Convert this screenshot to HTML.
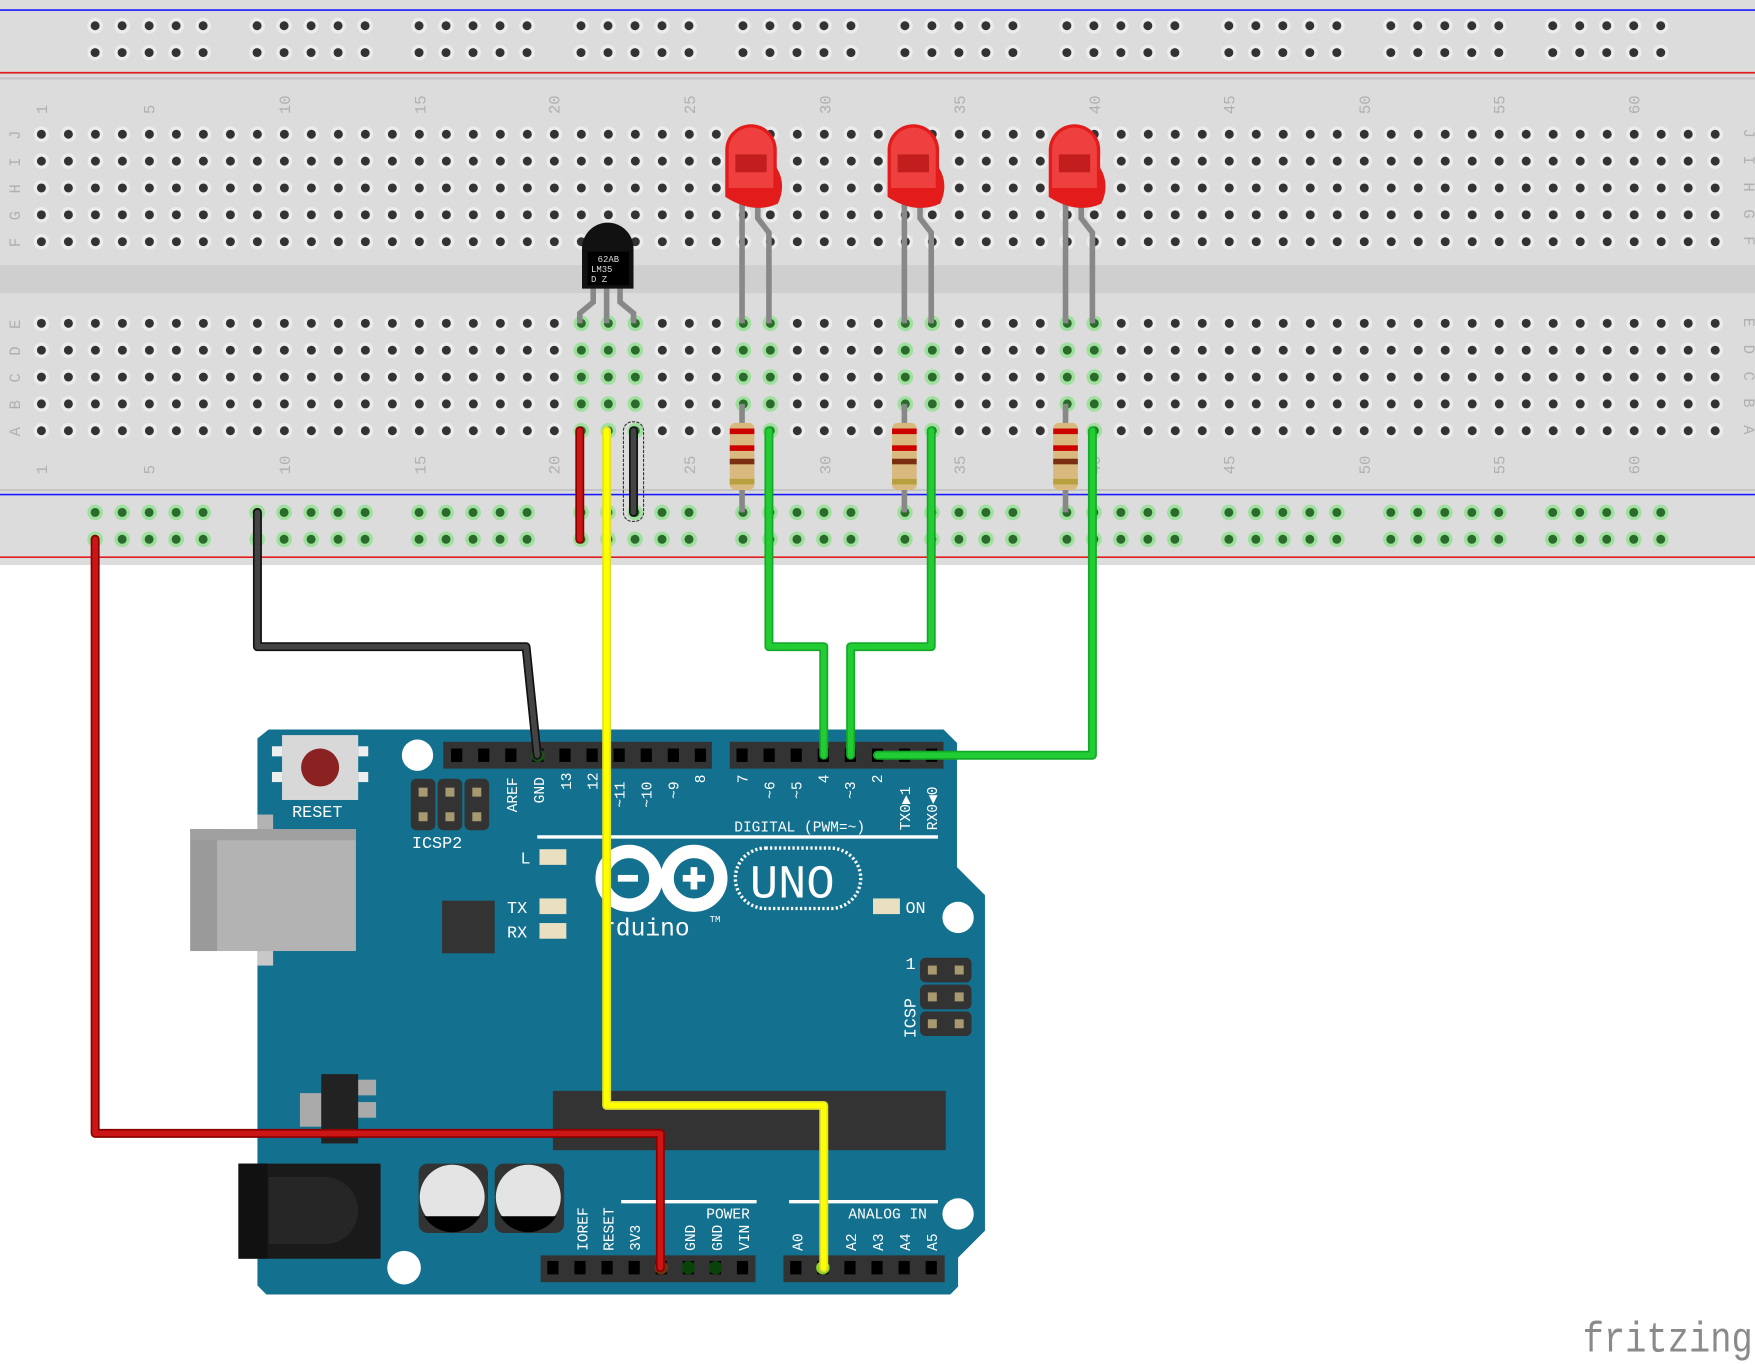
<!DOCTYPE html>
<html><head><meta charset="utf-8"><style>
html,body{margin:0;padding:0;background:#fff;}
svg{display:block;}
text{font-family:"Liberation Mono","DejaVu Sans Mono",monospace;}
</style></head><body>
<svg id="s" width="1755" height="1365" viewBox="0 0 1568 1220" preserveAspectRatio="none" xmlns="http://www.w3.org/2000/svg">
<rect x="0" y="0" width="1568" height="1220" fill="#fff"/>
<rect x="0" y="0" width="1568" height="505" fill="#dcdcdc"/>
<rect x="0" y="237" width="1568" height="25" fill="#cfcfcf"/>
<line x1="0" y1="9" x2="1568" y2="9" stroke="#1a1aff" stroke-width="1.5"/>
<line x1="0" y1="65" x2="1568" y2="65" stroke="#e02020" stroke-width="1.5"/>
<line x1="0" y1="70" x2="1568" y2="70" stroke="#c4c4c4" stroke-width="2"/>
<line x1="0" y1="438" x2="1568" y2="438" stroke="#c4c4c4" stroke-width="2"/>
<line x1="0" y1="442" x2="1568" y2="442" stroke="#1a1aff" stroke-width="1.5"/>
<line x1="0" y1="498" x2="1568" y2="498" stroke="#e02020" stroke-width="1.5"/>
<g id="holes"></g>
<g fill="#b0b0b0" font-family="Liberation Sans,sans-serif" font-size="14">
<text transform="translate(42,102) rotate(-90)">1</text>
<text transform="translate(138,102) rotate(-90)">5</text>
<text transform="translate(259,102) rotate(-90)">10</text>
<text transform="translate(380,102) rotate(-90)">15</text>
<text transform="translate(500,102) rotate(-90)">20</text>
<text transform="translate(621,102) rotate(-90)">25</text>
<text transform="translate(742,102) rotate(-90)">30</text>
<text transform="translate(862,102) rotate(-90)">35</text>
<text transform="translate(983,102) rotate(-90)">40</text>
<text transform="translate(1103,102) rotate(-90)">45</text>
<text transform="translate(1224,102) rotate(-90)">50</text>
<text transform="translate(1344,102) rotate(-90)">55</text>
<text transform="translate(1465,102) rotate(-90)">60</text>
<text transform="translate(42,424) rotate(-90)">1</text>
<text transform="translate(138,424) rotate(-90)">5</text>
<text transform="translate(259,424) rotate(-90)">10</text>
<text transform="translate(380,424) rotate(-90)">15</text>
<text transform="translate(500,424) rotate(-90)">20</text>
<text transform="translate(621,424) rotate(-90)">25</text>
<text transform="translate(742,424) rotate(-90)">30</text>
<text transform="translate(862,424) rotate(-90)">35</text>
<text transform="translate(983,424) rotate(-90)">40</text>
<text transform="translate(1103,424) rotate(-90)">45</text>
<text transform="translate(1224,424) rotate(-90)">50</text>
<text transform="translate(1344,424) rotate(-90)">55</text>
<text transform="translate(1465,424) rotate(-90)">60</text>
<text transform="translate(18,125) rotate(-90)">J</text><text transform="translate(18,149) rotate(-90)">I</text><text transform="translate(18,173) rotate(-90)">H</text><text transform="translate(18,197) rotate(-90)">G</text><text transform="translate(18,221) rotate(-90)">F</text>
<text transform="translate(18,294) rotate(-90)">E</text><text transform="translate(18,318) rotate(-90)">D</text><text transform="translate(18,342) rotate(-90)">C</text><text transform="translate(18,366) rotate(-90)">B</text><text transform="translate(18,390) rotate(-90)">A</text>
<text transform="translate(1558,115) rotate(90)">J</text><text transform="translate(1558,139) rotate(90)">I</text><text transform="translate(1558,163) rotate(90)">H</text><text transform="translate(1558,187) rotate(90)">G</text><text transform="translate(1558,211) rotate(90)">F</text>
<text transform="translate(1558,284) rotate(90)">E</text><text transform="translate(1558,308) rotate(90)">D</text><text transform="translate(1558,332) rotate(90)">C</text><text transform="translate(1558,356) rotate(90)">B</text><text transform="translate(1558,380) rotate(90)">A</text>
</g>
<g stroke="#888" stroke-width="5" fill="none">
<path d="M530,255 L530,270 L518,280 L518,289"/><path d="M542,255 L542,289"/><path d="M554,255 L554,270 L566,280 L566,289"/>
</g>
<path d="M520,258 L520,222 A22,22 0 0 1 566,222 L566,258 Z" fill="#111"/>
<rect x="525" y="225" width="37" height="30" fill="#000"/>
<g fill="#ddd" font-family="Liberation Sans,sans-serif" font-size="8"><text x="534" y="234">62AB</text><text x="528" y="243">LM35</text><text x="528" y="252">D Z</text></g>
<g id="leds"></g>
<g id="res"></g>
<path d="M240,652 L843,652 L855,664 L855,775 L880,800 L880,1100 L856,1124 L856,1150 L849,1157 L238,1157 L230,1149 L230,660 Z" fill="#13718f"/>
<rect x="170" y="741" width="148" height="109" fill="#b3b3b3"/>
<rect x="170" y="741" width="24" height="109" fill="#9a9a9a"/>
<rect x="170" y="741" width="148" height="10" fill="#a0a0a0"/>
<rect x="230" y="728" width="14" height="13" fill="#b3b3b3"/><rect x="230" y="850" width="14" height="13" fill="#c8c8c8"/>
<rect x="252" y="657" width="68" height="58" fill="#d8d8d8"/>
<rect x="243" y="667" width="9" height="9" fill="#eee"/><rect x="243" y="690" width="9" height="9" fill="#eee"/><rect x="320" y="667" width="9" height="9" fill="#eee"/><rect x="320" y="690" width="9" height="9" fill="#eee"/>
<ellipse cx="286" cy="686" rx="17" ry="17" fill="#8b2222"/>
<text x="261" y="730" fill="#fff" font-size="15">RESET</text>
<circle cx="373" cy="675" r="14" fill="#fff"/>
<circle cx="856" cy="820" r="14" fill="#fff"/>
<circle cx="856" cy="1085" r="14" fill="#fff"/>
<circle cx="361" cy="1133" r="15" fill="#fff"/>
<g fill="#333"><rect x="367" y="696" width="22" height="46" rx="5"/><rect x="391" y="696" width="22" height="46" rx="5"/><rect x="415" y="696" width="22" height="46" rx="5"/></g>
<g fill="#a89a70"><rect x="374" y="704" width="8" height="8"/><rect x="398" y="704" width="8" height="8"/><rect x="422" y="704" width="8" height="8"/><rect x="374" y="726" width="8" height="8"/><rect x="398" y="726" width="8" height="8"/><rect x="422" y="726" width="8" height="8"/></g>
<text x="368" y="758" fill="#fff" font-size="15">ICSP2</text>
<rect x="396" y="663" width="240" height="24" fill="#333"/>
<rect x="652" y="663" width="191" height="24" fill="#333"/>
<rect x="483" y="1122" width="192" height="24" fill="#333"/>
<rect x="700" y="1122" width="144" height="24" fill="#333"/>
<g id="pins"></g>
<g fill="#fff" font-size="13">
<text transform="translate(462,726) rotate(-90)">AREF</text>
<text transform="translate(486,718) rotate(-90)">GND</text>
<text transform="translate(510,706) rotate(-90)">13</text>
<text transform="translate(534,706) rotate(-90)">12</text>
<text transform="translate(558,722) rotate(-90)">~11</text>
<text transform="translate(582,722) rotate(-90)">~10</text>
<text transform="translate(606,714) rotate(-90)">~9</text>
<text transform="translate(630,700) rotate(-90)">8</text>
<text transform="translate(668,700) rotate(-90)">7</text>
<text transform="translate(692,714) rotate(-90)">~6</text>
<text transform="translate(716,714) rotate(-90)">~5</text>
<text transform="translate(740,700) rotate(-90)">4</text>
<text transform="translate(764,714) rotate(-90)">~3</text>
<text transform="translate(788,700) rotate(-90)">2</text>
<text transform="translate(813,742) rotate(-90)">TX0▶1</text>
<text transform="translate(837,742) rotate(-90)">RX0◀0</text>
<text x="656" y="743">DIGITAL (PWM=~)</text>
<text transform="translate(525,1118) rotate(-90)">IOREF</text>
<text transform="translate(548,1118) rotate(-90)">RESET</text>
<text transform="translate(572,1118) rotate(-90)">3V3</text>
<text transform="translate(621,1118) rotate(-90)">GND</text>
<text transform="translate(645,1118) rotate(-90)">GND</text>
<text transform="translate(669,1118) rotate(-90)">VIN</text>
<text x="631" y="1089">POWER</text>
<text transform="translate(717,1118) rotate(-90)">A0</text>
<text transform="translate(765,1118) rotate(-90)">A2</text>
<text transform="translate(789,1118) rotate(-90)">A3</text>
<text transform="translate(813,1118) rotate(-90)">A4</text>
<text transform="translate(837,1118) rotate(-90)">A5</text>
<text x="758" y="1089">ANALOG IN</text>
<text x="809" y="816" font-size="15">ON</text>
<text x="453" y="816" font-size="15">TX</text>
<text x="453" y="838" font-size="15">RX</text>
<text x="465" y="772" font-size="15">L</text>
<text x="809" y="866" font-size="15">1</text>
<text transform="translate(818,928) rotate(-90)" font-size="15">ICSP</text>
</g>
<g stroke="#fff" stroke-width="3"><line x1="480" y1="748" x2="838" y2="748"/><line x1="555" y1="1074" x2="676" y2="1074"/><line x1="705" y1="1074" x2="838" y2="1074"/></g>
<g fill="#e8e0c0"><rect x="482" y="759" width="24" height="14"/><rect x="482" y="803" width="24" height="14"/><rect x="482" y="825" width="24" height="14"/><rect x="780" y="803" width="24" height="14"/></g>
<g fill="none" stroke="#fff" stroke-width="12"><circle cx="562" cy="785" r="24"/><circle cx="620" cy="785" r="24"/></g>
<g fill="#fff"><rect x="552" y="782" width="18" height="6"/><rect x="610" y="782" width="20" height="6"/><rect x="617" y="775" width="6" height="20"/></g>
<rect x="657" y="758" width="112" height="54" rx="27" fill="none" stroke="#fff" stroke-width="3" stroke-dasharray="2 2"/>
<text x="670" y="802" fill="#fff" font-family="Liberation Sans,sans-serif" font-size="42">UNO</text>
<text x="537" y="836" fill="#fff" font-size="22">rduino</text><text x="634" y="824" fill="#fff" font-size="8">TM</text>
<rect x="395" y="805" width="47" height="47" fill="#333"/>
<g fill="#333"><rect x="822" y="856" width="46" height="22" rx="5"/><rect x="822" y="880" width="46" height="22" rx="5"/><rect x="822" y="904" width="46" height="22" rx="5"/></g>
<g fill="#a89a70"><rect x="829" y="863" width="8" height="8"/><rect x="853" y="863" width="8" height="8"/><rect x="829" y="887" width="8" height="8"/><rect x="853" y="887" width="8" height="8"/><rect x="829" y="911" width="8" height="8"/><rect x="853" y="911" width="8" height="8"/></g>
<rect x="494" y="975" width="351" height="53" fill="#333"/>
<rect x="268" y="977" width="20" height="30" fill="#aaa"/>
<rect x="318" y="965" width="18" height="14" fill="#aaa"/><rect x="318" y="985" width="18" height="14" fill="#aaa"/>
<rect x="287" y="960" width="33" height="62" fill="#222"/>
<rect x="213" y="1040" width="127" height="85" fill="#1a1a1a"/>
<rect x="213" y="1040" width="26" height="85" fill="#111"/>
<path d="M240,1052 L290,1052 A30,30 0 0 1 290,1112 L240,1112 Z" fill="#262626"/>
<g><rect x="374" y="1040" width="62" height="62" rx="8" fill="#333"/><circle cx="404" cy="1070" r="29" fill="#e4e4e4"/><path d="M379,1087 L429,1087 A29,29 0 0 1 379,1087 Z" fill="#000"/></g>
<g><rect x="442" y="1040" width="62" height="62" rx="8" fill="#333"/><circle cx="472" cy="1070" r="29" fill="#e4e4e4"/><path d="M447,1087 L497,1087 A29,29 0 0 1 447,1087 Z" fill="#000"/></g>
<g fill="none" stroke-linejoin="round" stroke-linecap="round">
<path d="M85,482 L85,1013 L590,1013 L590,1133" stroke="#8a0000" stroke-width="8"/>
<path d="M85,482 L85,1013 L590,1013 L590,1133" stroke="#cc1515" stroke-width="5"/>
<path d="M518,385 L518,482" stroke="#8a0000" stroke-width="8"/><path d="M518,385 L518,482" stroke="#cc1515" stroke-width="5"/>
<path d="M230,458 L230,578 L470,578 L480,675" stroke="#111" stroke-width="8"/><path d="M230,458 L230,578 L470,578 L480,675" stroke="#444" stroke-width="5"/>
<path d="M566,385 L566,458" stroke="#111" stroke-width="8"/><path d="M566,385 L566,458" stroke="#444" stroke-width="5"/>
<rect x="557" y="377" width="18" height="89" rx="8" stroke="#333" stroke-width="1" stroke-dasharray="2 2"/>
<path d="M542,385 L542,988 L736,988 L736,1133" stroke="#dede30" stroke-width="8"/><path d="M542,385 L542,988 L736,988 L736,1133" stroke="#ffff00" stroke-width="5"/>
<g stroke="#14a828" stroke-width="8"><path d="M687,385 L687,578 L736,578 L736,675"/><path d="M832,385 L832,578 L760,578 L760,675"/><path d="M976,385 L976,675 L784,675"/></g>
<g stroke="#22cc33" stroke-width="5"><path d="M687,385 L687,578 L736,578 L736,675"/><path d="M832,385 L832,578 L760,578 L760,675"/><path d="M976,385 L976,675 L784,675"/></g>
</g>
<text x="1414" y="1208" fill="#8a8a8a" font-family="Liberation Sans,sans-serif" font-size="38" textLength="152" lengthAdjust="spacingAndGlyphs">fritzing</text>
</svg>
<script>
var NS="http://www.w3.org/2000/svg";
function el(p,t,a){var e=document.createElementNS(NS,t);for(var k in a)e.setAttribute(k,a[k]);p.appendChild(e);return e;}
var H=document.getElementById("holes");
function X(c){return 37+(c-1)*24.12;}
function hole(x,y,g){el(H,"circle",{cx:x,cy:y,r:7,fill:g?"#9fe09f":"#ececec"});el(H,"circle",{cx:x,cy:y,r:4,fill:g?"#2a6a2a":"#333"});}
var green=[21,22,23,27,28,33,34,39,40];
var rowsT=[120,144,168,192,216],rowsB=[289,313,337,361,385];
for(var c=1;c<=63;c++){rowsT.forEach(function(y){hole(X(c),y,false)});rowsB.forEach(function(y){hole(X(c),y,green.indexOf(c)>=0)});}
for(var g=0;g<10;g++)for(var i=0;i<5;i++){var x=85+g*144.7+i*24.12;hole(x,23,false);hole(x,47,false);hole(x,458,true);hole(x,482,true);}
var L=document.getElementById("leds");
[663,808,952].forEach(function(x){
var c=x+10;
el(L,"path",{d:"M"+x+",180 L"+x+",289",stroke:"#888","stroke-width":5,fill:"none"});
el(L,"path",{d:"M"+(x+14)+",182 L"+(x+14)+",195 L"+(x+24)+",208 L"+(x+24)+",289",stroke:"#888","stroke-width":5,fill:"none"});
el(L,"path",{d:"M"+(c-25)+",176 L"+(c-25)+",134 A23,23 0 0 1 "+(c+21)+",134 L"+(c+21)+",150 Q"+(c+30)+",165 "+(c+22)+",182 Q"+(c)+",192 "+(c-25)+",176 Z",fill:"#e31b1b"});
el(L,"path",{d:"M"+(c-22)+",168 L"+(c-22)+",134 A20,20 0 0 1 "+(c+18)+",134 L"+(c+18)+",168 Z",fill:"#ef4040"});
el(L,"rect",{x:c-16,y:138,width:28,height:16,fill:"#c21e1e"});
});
var R=document.getElementById("res");
[663,808,952].forEach(function(x){
el(R,"line",{x1:x,y1:361,x2:x,y2:458,stroke:"#888","stroke-width":5});
el(R,"rect",{x:x-11,y:378,width:22,height:60,rx:5,fill:"#d9b97e"});
[[383,"#c00"],[398,"#c00"],[410,"#7a3010"],[428,"#b8a040"]].forEach(function(b){el(R,"rect",{x:x-11,y:b[0],width:22,height:5,fill:b[1]});});
});
var P=document.getElementById("pins");
function pin(x,y,g){el(P,"rect",{x:x-5,y:y-6,width:10,height:12,fill:"#000"});if(g)el(P,"circle",{cx:x,cy:y,r:6,fill:g,opacity:0.9});}
for(var i=0;i<10;i++)pin(408+i*24.2,675,i==3?"#1a5a1a":null);
for(var i=0;i<8;i++)pin(663+i*24.2,675,null);
for(var i=0;i<8;i++)pin(494+i*24.2,1133,i==4?"#7a3a10":(i==5||i==6)?"#0a4a0a":null);
for(var i=0;i<6;i++)pin(711+i*24.2,1133,i==1?"#9ee62a":null);
</script>
</body></html>
